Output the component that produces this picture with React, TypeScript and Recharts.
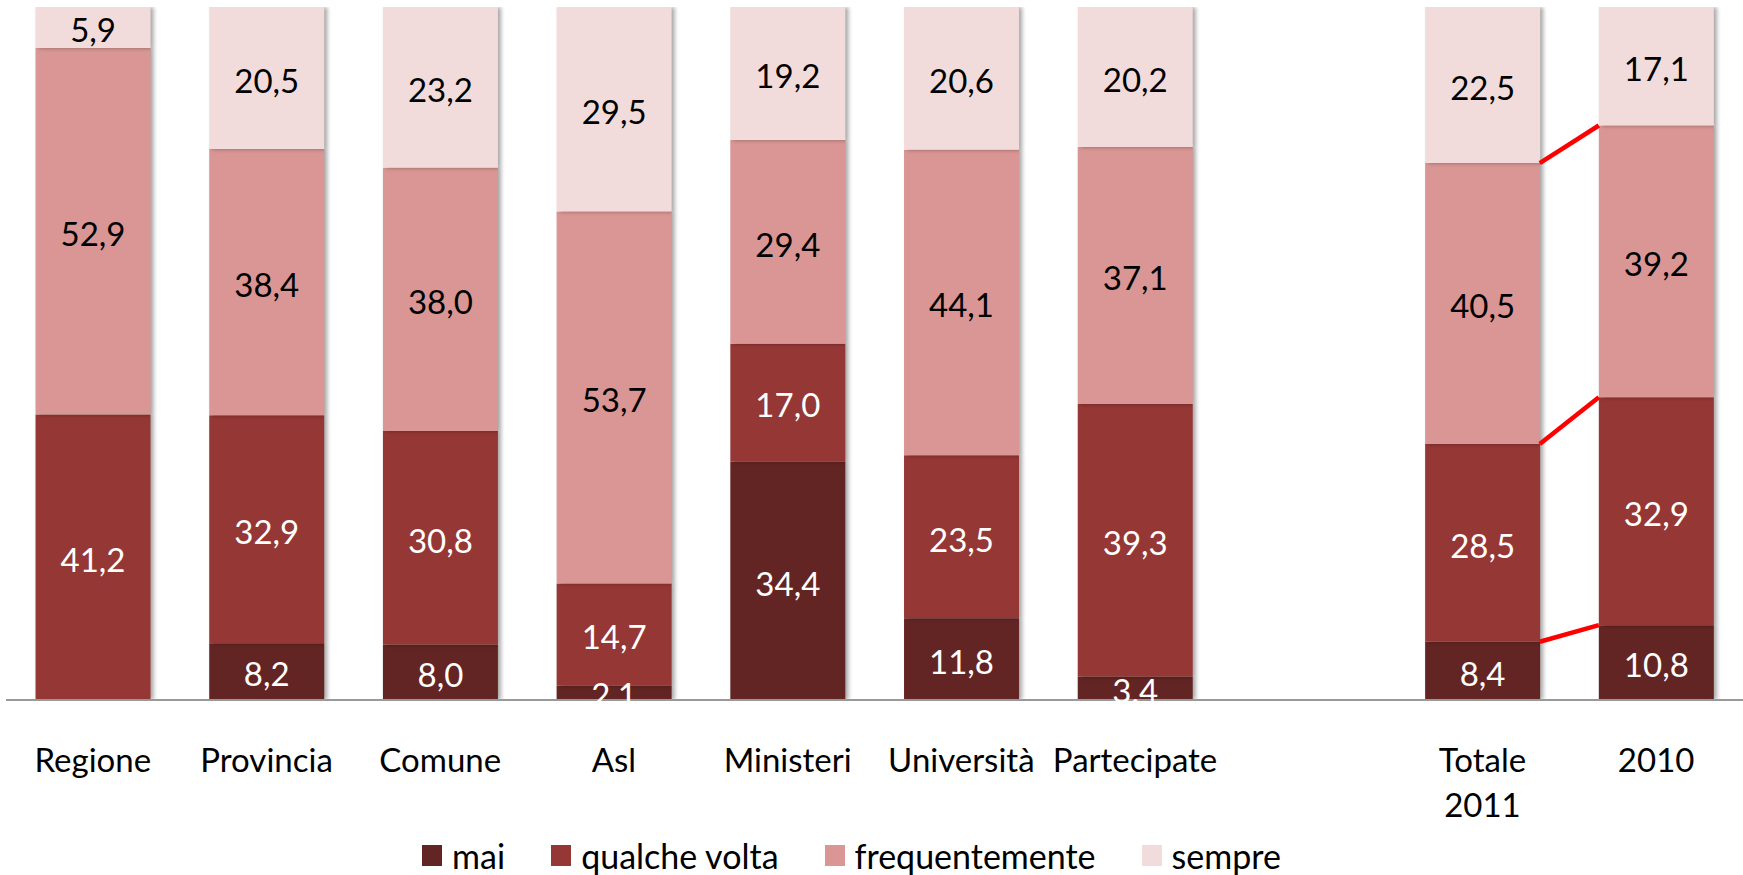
import React from 'react';
import { ComposedChart, Bar, Line, XAxis, YAxis, Legend, LabelList } from 'recharts';

const categories = ['Regione', 'Provincia', 'Comune', 'Asl', 'Ministeri', 'Università', 'Partecipate', '', 'Totale\n2011', '2010'];
const mai = [0, 8.2, 8.0, 2.1, 34.4, 11.8, 3.4, null, 8.4, 10.8];
const qualcheVolta = [41.2, 32.9, 30.8, 14.7, 17.0, 23.5, 39.3, null, 28.5, 32.9];
const frequentemente = [52.9, 38.4, 38.0, 53.7, 29.4, 44.1, 37.1, null, 40.5, 39.2];
const sempre = [5.9, 20.5, 23.2, 29.5, 19.2, 20.6, 20.2, null, 22.5, 17.1];

const seriesKeys = ['mai', 'qualche', 'frequente', 'sempre'];
const seriesNames = ['mai', 'qualche volta', 'frequentemente', 'sempre'];
const seriesColors = ['#632523', '#953735', '#D99694', '#F2DCDB'];
const labelColors = ['#ffffff', '#ffffff', '#000000', '#000000'];
const seriesValues = [mai, qualcheVolta, frequentemente, sempre];

const FONT = 'Lato, "Open Sans", sans-serif';
const GAP = 0.17; // barCategoryGap as fraction of the band

const data = categories.map((name, i) => ({
  name,
  mai: mai[i],
  qualche: qualcheVolta[i],
  frequente: frequentemente[i],
  sempre: sempre[i],
}));

// series lines between "Totale 2011" and "2010"
const fromIdx = 8;
const toIdx = 9;
const totalAt = (idx: number) => seriesValues.reduce((s, arr) => s + (arr[idx] ?? 0), 0);
const cumAt = (k: number, idx: number) =>
  seriesValues.slice(0, k + 1).reduce((s, arr) => s + (arr[idx] ?? 0), 0) / totalAt(idx);
const connectors = [0, 1, 2].map((k) => [
  { x: fromIdx + 1 - GAP, y: cumAt(k, fromIdx) },
  { x: toIdx + GAP, y: cumAt(k, toIdx) },
]);

const fmt = (v: any) => (v === null || v === undefined || v === 0 ? '' : Number(v).toFixed(1).replace('.', ','));

const CategoryTick = (props: any) => {
  const { x, y, payload } = props;
  const lines = String(payload.value).split('\n');
  return (
    <text x={x} y={y} textAnchor="middle" fontFamily={FONT} fontSize={33} fill="#000">
      {lines.map((l, i) => (
        <tspan key={i} x={x} dy={i === 0 ? 72 : 45}>
          {l}
        </tspan>
      ))}
    </text>
  );
};

const LegendContent = () => (
  <div
    style={{
      display: 'flex',
      justifyContent: 'center',
      alignItems: 'center',
      height: 40,
      paddingRight: 46,
      fontFamily: FONT,
      fontSize: 34,
      color: '#000',
    }}
  >
    {seriesNames.map((n, i) => (
      <div key={n} style={{ display: 'flex', alignItems: 'center', marginLeft: i === 0 ? 0 : 46 }}>
        <span style={{ display: 'inline-block', width: 20, height: 21, background: seriesColors[i], marginRight: 10 }} />
        <span>{n}</span>
      </div>
    ))}
  </div>
);

export default function App() {
  return (
    <div style={{ position: 'absolute', left: 0, top: 0, background: '#fff' }}>
      <style>{`.recharts-bar-rectangle { filter: drop-shadow(3px 0px 2px rgba(0,0,0,0.35)); }`}</style>
      <ComposedChart
        width={1743}
        height={875}
        data={data}
        stackOffset="expand"
        barCategoryGap={`${GAP * 100}%`}
        margin={{ top: 7, right: 0, left: 6, bottom: 0 }}
      >
        <XAxis
          xAxisId="cat"
          dataKey="name"
          interval={0}
          tickLine={false}
          tickSize={0}
          tickMargin={0}
          height={135}
          axisLine={{ stroke: '#999999', strokeWidth: 2 }}
          tick={<CategoryTick />}
        />
        <XAxis xAxisId="num" type="number" dataKey="x" domain={[0, categories.length]} allowDataOverflow hide />
        <YAxis domain={[0, 1]} allowDataOverflow hide />
        <Legend verticalAlign="bottom" content={<LegendContent />} />
        {seriesKeys.map((key, i) => (
          <Bar
            key={key}
            xAxisId="cat"
            dataKey={key}
            name={seriesNames[i]}
            stackId="a"
            fill={seriesColors[i]}
            isAnimationActive={false}
          >
            <LabelList
              dataKey={key}
              position="center"
              formatter={fmt}
              fill={labelColors[i]}
              fontFamily={FONT}
              fontSize={33}
              dy={3}
            />
          </Bar>
        ))}
        {connectors.map((pts, k) => (
          <Line
            key={k}
            xAxisId="num"
            data={pts}
            dataKey="y"
            stroke="#FF0000"
            strokeWidth={4.5}
            dot={false}
            activeDot={false}
            legendType="none"
            isAnimationActive={false}
          />
        ))}
      </ComposedChart>
    </div>
  );
}
